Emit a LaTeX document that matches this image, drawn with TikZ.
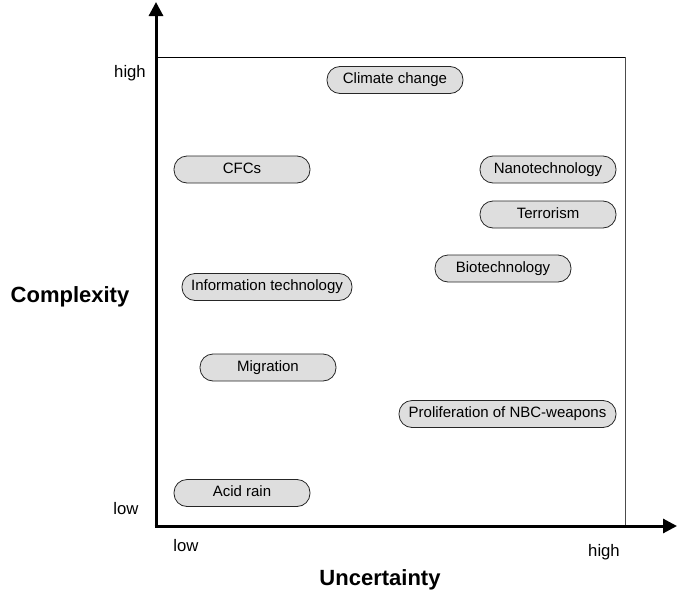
\documentclass[tikz,border=0pt]{standalone}
\usepackage{fontspec}
\setmainfont{Liberation Sans}
\usetikzlibrary{arrows.meta,calc}
\begin{document}
\begin{tikzpicture}[x=1pt,y=-1pt,
  pill/.style={draw=black!85, line width=0.8pt, fill=black!13, rounded corners=13pt,
    minimum height=27pt, minimum width=136pt, inner sep=0pt,
    text height=0.716em, text depth=0pt,
    font=\fontsize{15}{18}\selectfont},
  lbl/.style={font=\fontsize{16.7}{20}\selectfont, inner sep=0pt},
  axlbl/.style={font=\fontsize{22}{26}\selectfont\bfseries, inner sep=0pt},
  axis/.style={line width=3pt, -{Triangle[length=14pt,width=14pt]}}]
\useasboundingbox (0,0) rectangle (677,597);
% frame
\coordinate (o) at (156,526);
\coordinate (ytip) at (156,2);
\coordinate (xtip) at (677,526);
\coordinate (tl) at (156,57);
\coordinate (tr) at (625,57);
\coordinate (br) at (625,526);
\draw[line width=0.9pt] (tl) -- (tr);
\draw[line width=0.9pt, black!70] (tr) -- (br);
\draw[axis] ($(o)+(0,1.5)$) -- (ytip);
\draw[axis] ($(o)+(-1.5,0)$) -- (xtip);
% pills
\node[pill] (cc) at (395,80) {Climate change};
\node[pill] (cfc) at (242,169.5) {CFCs};
\node[pill] (nano) at (548,169.5) {Nanotechnology};
\node[pill] (terr) at (548,214.5) {Terrorism};
\node[pill] (bio) at (503,268.5) {Biotechnology};
\node[pill, minimum width=170pt] (it) at (267,287) {Information technology};
\node[pill] (mig) at (268,367.5) {Migration};
\node[pill, minimum width=217pt] (nbc) at (507.5,414) {Proliferation of NBC-weapons};
\node[pill] (acid) at (242,493) {Acid rain};
% labels
\node[lbl] (yhigh) at (130,73) {high};
\node[lbl] (ylow) at (126,509) {low};
\node[axlbl] (ylab) at (70,297) {Complexity};
\node[lbl] (xlow) at (186,546) {low};
\node[lbl] (xhigh) at (604,552) {high};
\node[axlbl] (xlab) at (380,580) {Uncertainty};
\end{tikzpicture}
\end{document}
